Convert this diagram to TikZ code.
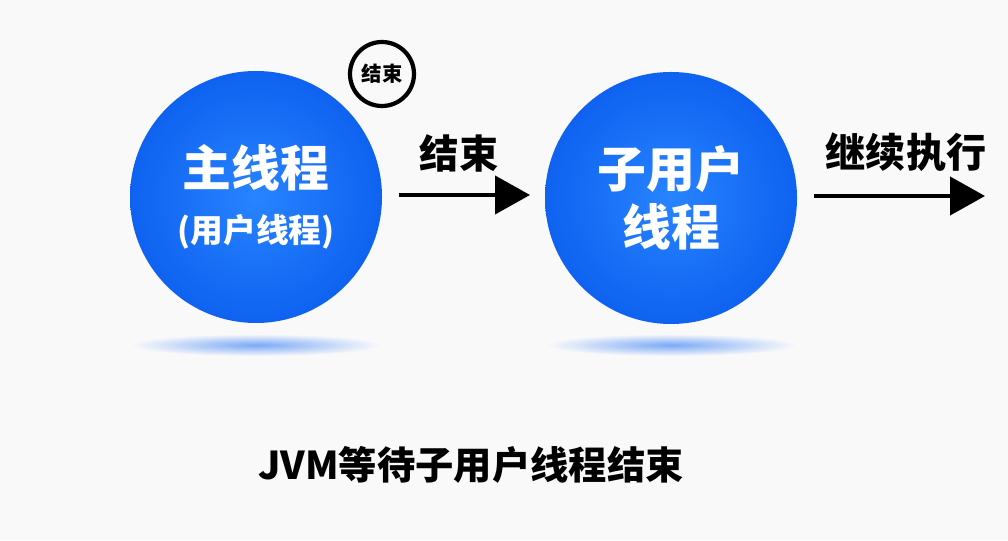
\documentclass[tikz,border=0pt]{standalone}
\usepackage{fontspec}
\newfontfamily\cjk{Noto Sans CJK SC}
\usetikzlibrary{arrows.meta}

\definecolor{threadblue}{RGB}{14, 98, 240}
\definecolor{threadlight}{RGB}{40, 132, 255}
\definecolor{bgpaper}{RGB}{249, 249, 250}

\begin{document}
\begin{tikzpicture}[font=\cjk\bfseries,
    thread/.style={circle, minimum size=2.52cm, inner sep=0pt, text=white, align=center,
        shading=radial, inner color=threadlight, outer color=threadblue},
    flow/.style={-{Triangle[length=0.35cm, width=0.38cm]}, line width=1.2pt, black}]

            \fill[bgpaper] (0,0) rectangle (10.08,5.40);
            \useasboundingbox (0,0) rectangle (10.08,5.40);

            % soft shadows under the circles
            \shade[inner color=threadblue!55, outer color=bgpaper] (2.56,1.95) ellipse (1.25 and 0.11);
            \shade[inner color=threadblue!55, outer color=bgpaper] (6.71,1.95) ellipse (1.25 and 0.11);

            \node[thread] (main) at (2.56,3.43)
                {{\fontsize{13.9}{16}\selectfont 主线程}\\[4pt]{\fontsize{9.3}{12}\selectfont (用户线程)}};
            \node[thread, font=\cjk\bfseries\fontsize{13.9}{16.5}\selectfont] (child) at (6.71,3.42) {子用户\\线程};

            \node[circle, draw, line width=1.2pt, minimum size=0.64cm, inner sep=0pt,
                font=\cjk\bfseries\fontsize{5.8}{7}\selectfont] (endmark) at (3.82,4.66) {结束};

            \coordinate (mainend) at (5.30,3.45);
            \coordinate (childend) at (9.85,3.44);

            \draw[flow] (main.east |- mainend) ++(0.16,0) coordinate (mainstart) -- (mainend);
            \draw[flow] (child.east |- childend) ++(0.16,0) coordinate (childstart) -- (childend);

            \node[font=\cjk\bfseries\fontsize{11.2}{13}\selectfont] (endlabel) at (4.59,3.87) {结束};
            \node[font=\cjk\bfseries\fontsize{11.4}{13}\selectfont] (goonlabel) at (9.06,3.88) {继续执行};

            \node[font=\cjk\bfseries\fontsize{10.9}{12}\selectfont] (caption) at (4.71,0.75) {JVM等待子用户线程结束};

        \end{tikzpicture}
\end{document}
